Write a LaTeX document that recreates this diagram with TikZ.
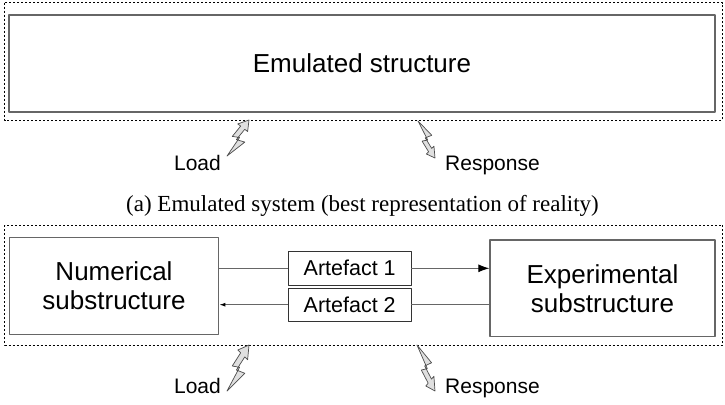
\documentclass[tikz,border=0pt]{standalone}
\usepackage{fontspec}
\setmainfont{Liberation Sans}
\newfontfamily\captionfont{Liberation Serif}
\usetikzlibrary{arrows.meta}

\tikzset{
  pics/bolt/.style={code={
    \draw[boltline] (0,0) -- (0.81,0.386) -- (0.426,0.456) -- (0.807,0.741) -- (0.938,0.68)
      -- (1,1) -- (0.49,0.891) -- (0.621,0.83) -- (0.24,0.544) -- (0.571,0.514) -- cycle;
  }}
}

\begin{document}
\begin{tikzpicture}[x=1pt, y=-1pt,
                    line join=round,
                    link/.style={draw=black!60, line width=1pt}]
    \tikzstyle{frame}=[draw, line width=1pt, dash pattern=on 2pt off 2pt]
    \tikzstyle{block}=[draw=black!60, line width=1.3pt, align=center, inner sep=0pt,
                       font=\fontsize{26}{29}\selectfont]
    \tikzstyle{artefact}=[draw=black!80, line width=0.8pt, inner sep=0pt,
                          minimum width=122.7pt, minimum height=33.5pt,
                          font=\fontsize{21.5}{24}\selectfont]
    \tikzstyle{tag}=[inner sep=0pt, font=\fontsize{21}{24}\selectfont]
    \tikzstyle{boltline}=[draw=black!70, fill=gray!25, line width=0.7pt]

    \useasboundingbox (0,0) rectangle (725,404);

    \draw[frame] (4.6,2.7) rectangle (722.6,120);
    \node[block, minimum width=706pt, minimum height=97pt] (emu) at (362,63.5) {Emulated structure};
    \pic[xscale=22, yscale=-36] at (227,156) {bolt};
    \pic[xscale=17, yscale=37] at (418,121) {bolt};
    \node[tag, anchor=base east] (loada) at (221,170) {Load};
    \node[tag, anchor=base west] (respa) at (445,170) {Response};

    \node[anchor=base, inner sep=0pt, font=\captionfont\fontsize{23}{26}\selectfont] (capa)
        at (362.5,211.7) {(a) Emulated system (best representation of reality)};

    \draw[frame] (4.6,225) rectangle (722.6,345);
    \node[block, minimum width=209.5pt, minimum height=97pt] (num) at (114,285.8) {Numerical\\substructure};
    \node[block, minimum width=225pt, minimum height=96.7pt] (exp) at (602.5,288.3) {Experimental\\substructure};
    \node[artefact] (art1) at (349.7,268.3) {Artefact 1};
    \node[artefact] (art2) at (349.7,304.7) {Artefact 2};

    \draw[link] (num.east |- art1.west) -- (art1.west);
    \draw[link, -{Latex[length=11pt, width=8pt, color=black]}] (art1.east) -- (exp.west |- art1.east);
    \draw[link] (exp.west |- art2.east) -- (art2.east);
    \draw[link, -{Latex[length=6pt, width=4pt, color=black]}] (art2.west) -- (num.east |- art2.west);

    \pic[xscale=22, yscale=-46] at (227,391) {bolt};
    \pic[xscale=18, yscale=46] at (417,345) {bolt};
    \node[tag, anchor=base east] (loadb) at (221,393) {Load};
    \node[tag, anchor=base west] (respb) at (445,393) {Response};
\end{tikzpicture}
\end{document}
